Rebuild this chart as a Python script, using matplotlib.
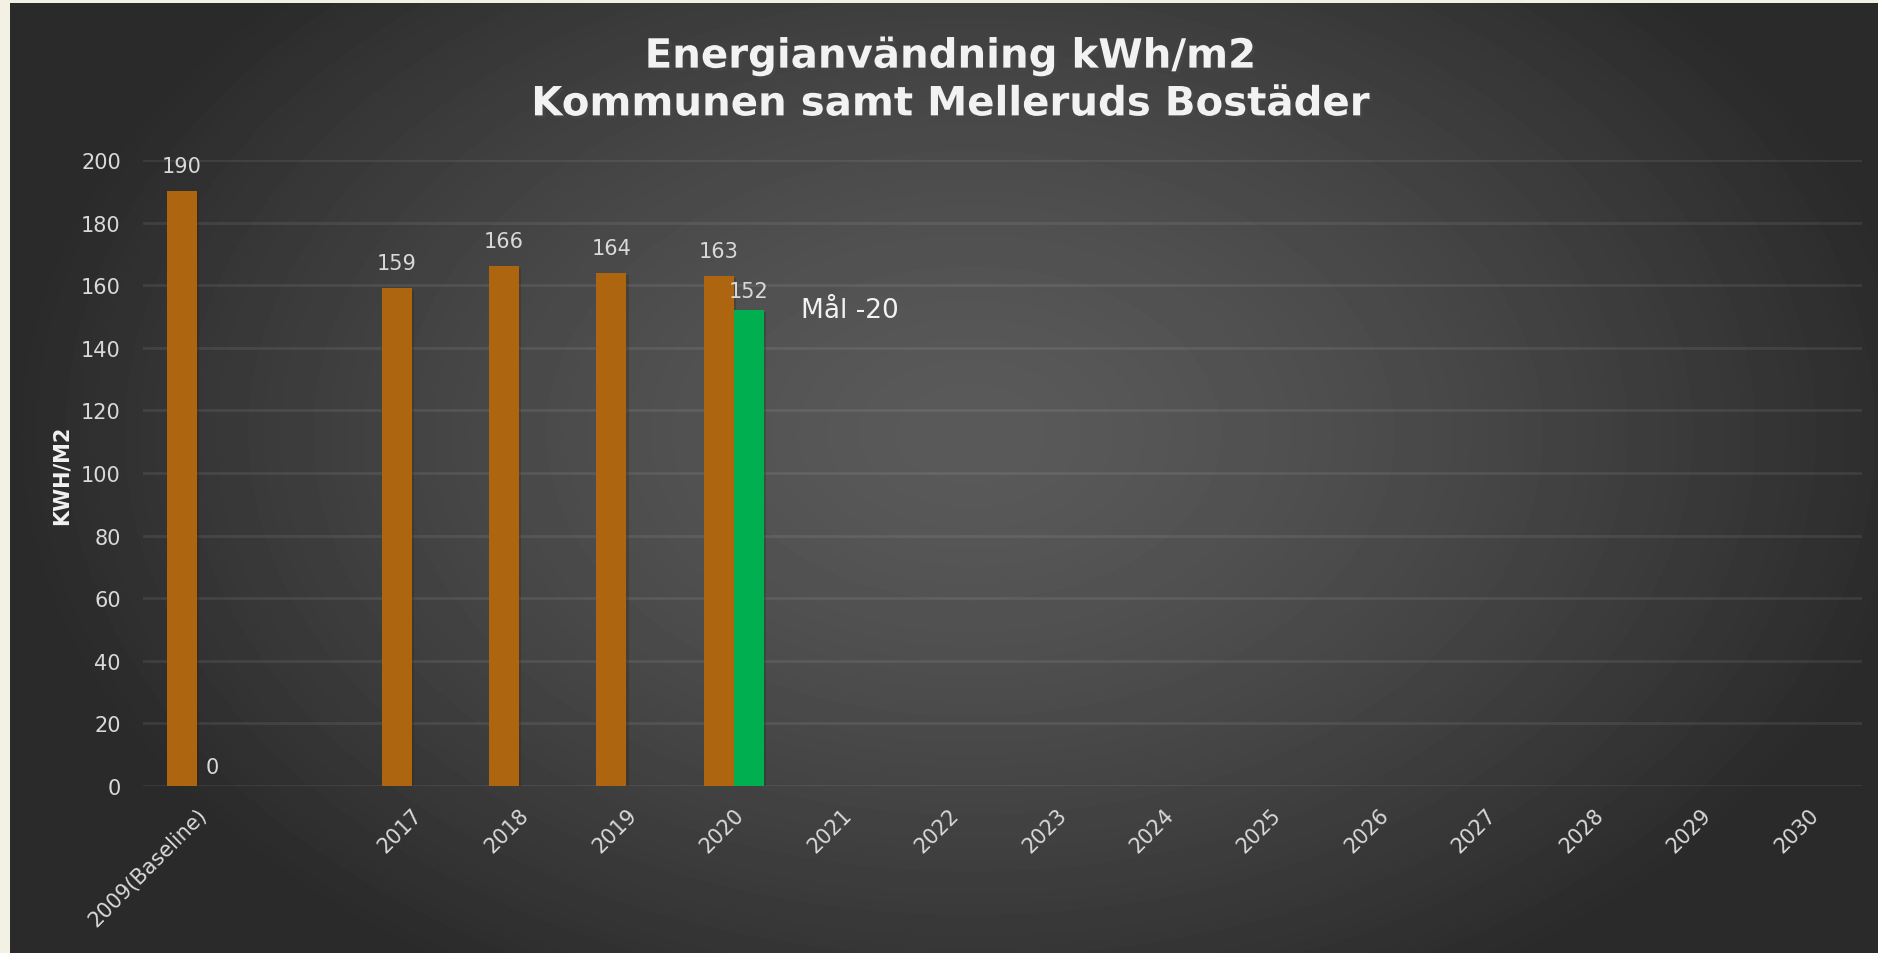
import matplotlib
import numpy as np

matplotlib.use("Agg")
import matplotlib.pyplot as plt
import matplotlib.patheffects as pe

# data
categories = ["2009(Baseline)", "", "2017", "2018", "2019", "2020", "2021", "2022",
              "2023", "2024", "2025", "2026", "2027", "2028", "2029", "2030"]
actual = [190, np.nan, 159, 166, 164, 163] + [np.nan] * 10
goal = [0, np.nan, np.nan, np.nan, np.nan, 152] + [np.nan] * 10
goal_label = "Mål -20"
title = "Energianvändning kWh/m2\nKommunen samt Melleruds Bostäder"
ylabel = "KWH/M2"
yticks = [0, 20, 40, 60, 80, 100, 120, 140, 160, 180, 200]

W, H = 1878, 954
ORANGE = "#AD650F"
GREEN = "#00B050"
TXT = "#D9D9D9"

plt.rcParams["font.family"] = ["DejaVu Sans"]

fig = plt.figure(figsize=(W / 100, H / 100), dpi=100, facecolor="#F3F1E3")

# radial grey backdrop, lighter in the middle
bg = fig.add_axes([10 / W, 0, (W - 10) / W, 950 / H])
bg.set_axis_off()
yy, xx = np.mgrid[0:950, 0:W - 10]
r = np.sqrt(((xx - 960) / 960.0) ** 2 + ((yy - 430) / 640.0) ** 2)
shade = 90 - 48 * np.clip(r, 0, 1) ** 1.4
bg.imshow(shade, cmap="gray", vmin=0, vmax=255, aspect="auto", interpolation="bilinear")

ax = fig.add_axes([143 / W, 167 / H, (1862 - 143) / W, (787 - 161) / H])
ax.set_facecolor("none")
x = np.arange(len(categories))
bw = 0.28
shadow = [pe.SimplePatchShadow(offset=(1.5, -1.5), alpha=0.25), pe.Normal()]

for xi, v in zip(x, actual):
    if np.isnan(v):
        continue
    b = ax.bar(xi - bw / 2, v, bw, color=ORANGE, zorder=3)
    b[0].set_path_effects(shadow)
    ax.annotate(f"{v:.0f}", (xi - bw / 2, v), xytext=(0, 18), textcoords="offset points",
                ha="center", va="center", color=TXT, fontsize=15, zorder=4)

for xi, v in zip(x, goal):
    if np.isnan(v):
        continue
    b = ax.bar(xi + bw / 2, v, bw, color=GREEN, zorder=3)
    b[0].set_path_effects(shadow)
    ax.annotate(f"{v:.0f}", (xi + bw / 2, v), xytext=(0, 14), textcoords="offset points",
                ha="center", va="center", color=TXT, fontsize=15, zorder=4)

# series caption next to the last goal bar
last = max(i for i, v in enumerate(goal) if not np.isnan(v))
ax.annotate(goal_label, (x[last] + bw, goal[last]), xytext=(27, 0), textcoords="offset points",
            ha="left", va="center", color="#F2F2F2", fontsize=19)

ax.set_xlim(-0.5, len(categories) - 0.5)
ax.set_ylim(0, 200)
ax.set_yticks(yticks)
ax.set_xticks(x)
ax.set_xticklabels(categories, rotation=45, ha="right", va="top", rotation_mode="anchor")
ax.tick_params(axis="x", length=0, pad=13, labelsize=15, labelcolor=TXT)
ax.tick_params(axis="y", length=0, pad=16, labelsize=15, labelcolor=TXT)
ax.grid(axis="y", color="white", alpha=0.08, lw=2, zorder=0)
ax.set_axisbelow(True)
for s in ax.spines.values():
    s.set_visible(False)

fig.text(62 / W, 1 - 475 / H, ylabel, rotation=90, ha="center", va="center",
         color="#F2F2F2", fontsize=15, fontweight="bold")

fig.text(950 / W, 1 - 81 / H, title, ha="center", va="center", color="#F2F2F2",
         fontsize=29, fontweight="bold", linespacing=1.25,
         path_effects=[pe.SimplePatchShadow(offset=(2, -2), alpha=0.6), pe.Normal()])

fig.savefig("out.png", dpi=100, facecolor=fig.get_facecolor())
